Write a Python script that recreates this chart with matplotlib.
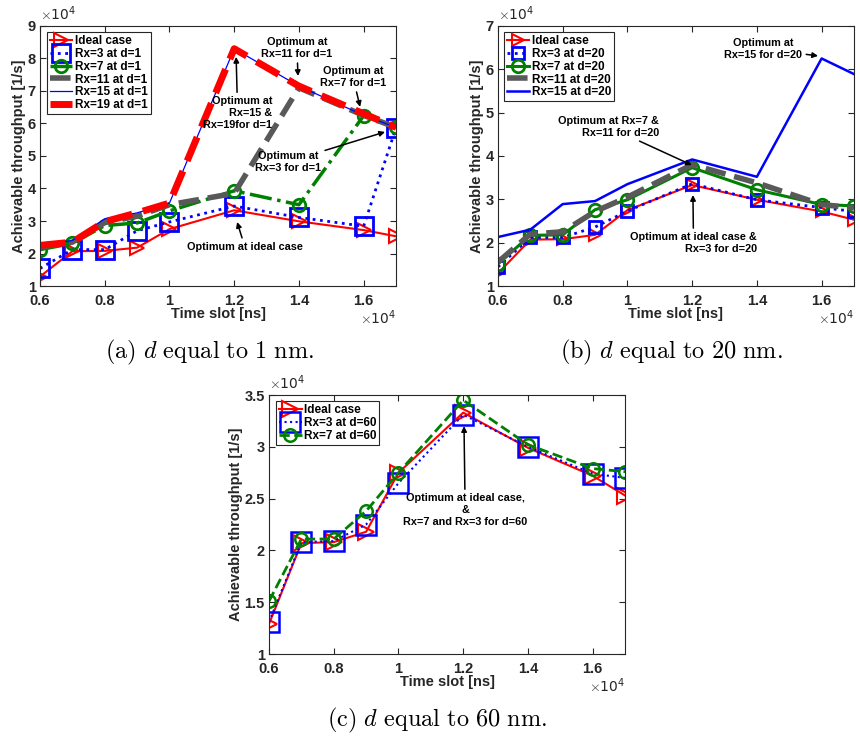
import matplotlib
matplotlib.use("Agg")
import matplotlib.pyplot as plt

plt.rcParams['font.family'] = ['Liberation Sans', 'DejaVu Sans']
plt.rcParams['font.weight'] = 'bold'
plt.rcParams['axes.labelweight'] = 'bold'
plt.rcParams['mathtext.fontset'] = 'cm'

# time slots [ns]
slots = [6000, 7000, 8000, 9000, 10000, 12000, 14000, 16000, 17000]
xtick_vals = [6000, 8000, 10000, 12000, 14000, 16000]
xtick_labels = ['0.6', '0.8', '1', '1.2', '1.4', '1.6']

# throughput [1/s]
ideal = [12900, 20700, 20800, 21800, 27500, 33300, 29900, 27200, 25300]

# d = 1 nm
rx3_d1 = [15400, 21200, 21200, 27000, 29700, 34600, 31100, 28400, 58700]
rx7_d1 = [21200, 23100, 28600, 29400, 33100, 39300, 35000, 62400, 58900]
rx11_d1 = [22000, 23500, 29500, 31500, 35000, 38500, 71000, 62500, 58800]
rx15_d1 = [22500, 24000, 30700, 32500, 35500, 83000, 71500, 62500, 58800]
rx19_d1 = [22500, 23500, 29800, 32500, 35500, 83000, 71500, 63000, 58800]

# d = 20 nm
rx3_d20 = [14400, 21200, 21200, 23600, 27300, 33600, 29900, 28100, 27200]
rx7_d20 = [15100, 21700, 21800, 27600, 29900, 37300, 32200, 28800, 28500]
rx11_d20 = [15500, 22000, 22500, 27200, 30500, 38000, 33800, 28800, 28000]
rx15_d20 = [21300, 23000, 28900, 29600, 33500, 39200, 35200, 62500, 58900]

# d = 60 nm
rx3_d60 = [13100, 20800, 20900, 22500, 26500, 33100, 30000, 27400, 27000]
rx7_d60 = [15100, 21100, 21100, 23800, 27500, 34500, 30200, 27900, 27600]

RED = (1, 0, 0)
BLUE = (0, 0, 1)
GREEN = (0, 0.5, 0)
GRAY = (0.35, 0.35, 0.35)
AXC = (0.15, 0.15, 0.15)

TICK_FS = 10.5
LABEL_FS = 10.5
LEG_FS = 8.5
NOTE_FS = 7.8

fig = plt.figure(figsize=(8.6, 7.36), dpi=100)
ax_a = fig.add_axes([0.0465, 0.6114, 0.414, 0.3533])
ax_b = fig.add_axes([0.579, 0.6114, 0.414, 0.3533])
ax_c = fig.add_axes([0.3128, 0.1114, 0.414, 0.3519])


def style_axes(ax, yticks, ylabels):
    ax.set_xlim(6000, 17000)
    ax.set_ylim(yticks[0], yticks[-1])
    ax.set_xticks(xtick_vals)
    ax.set_xticklabels(xtick_labels)
    ax.set_yticks(yticks)
    ax.set_yticklabels(ylabels)
    ax.tick_params(direction='in', top=True, right=True, length=4,
                   labelsize=TICK_FS, colors=AXC, width=0.8)
    ax.tick_params(axis='x', pad=6)
    ax.tick_params(axis='y', pad=3)
    for s in ax.spines.values():
        s.set_color(AXC)
        s.set_linewidth(0.8)
    ax.set_xlabel('Time slot [ns]', fontsize=LABEL_FS, color=AXC, labelpad=-1)
    ax.set_ylabel('Achievable throughput [1/s]', fontsize=LABEL_FS, color=AXC,
                  labelpad=1)
    ax.text(0, 1.01, r'$\times\mathregular{10^4}$', transform=ax.transAxes,
            fontsize=10, fontweight='normal', color=AXC,
            ha='left', va='bottom', family='DejaVu Sans')
    ax.text(1, -0.088, r'$\times\mathregular{10^4}$', transform=ax.transAxes,
            fontsize=10, fontweight='normal', color=AXC,
            ha='right', va='top', family='DejaVu Sans')


def legend(ax, x0):
    leg = ax.legend(loc='upper left', bbox_to_anchor=(x0, 0.975),
                    borderaxespad=0, fontsize=LEG_FS, frameon=True,
                    fancybox=False, edgecolor=AXC, framealpha=1,
                    handlelength=1.9, handletextpad=0.2, labelspacing=0.06,
                    borderpad=0.25)
    leg.get_frame().set_linewidth(0.8)


def note(ax, txt, xy, xytext, ha='center'):
    ax.annotate(txt, xy=xy, xytext=xytext, fontsize=NOTE_FS, ha=ha,
                va='center', multialignment=ha, linespacing=1.2,
                arrowprops=dict(arrowstyle='-|>', color='black', lw=1.1,
                                mutation_scale=8, shrinkA=1, shrinkB=0))


# ---- (a) d = 1 nm
ax = ax_a
ax.plot(slots, ideal, '->', color=RED, lw=1.5, ms=10, mfc='none', mew=1.5,
        label='Ideal case')
ax.plot(slots, rx3_d1, ':s', color=BLUE, lw=2, ms=13, mfc='none', mew=2,
        label='Rx=3 at d=1')
ax.plot(slots, rx7_d1, '-.o', color=GREEN, lw=2.5, ms=9, mfc='none', mew=2,
        label='Rx=7 at d=1')
ax.plot(slots, rx11_d1, '--', color=GRAY, lw=4, label='Rx=11 at d=1')
ax.plot(slots, rx15_d1, '-', color=BLUE, lw=0.9, label='Rx=15 at d=1')
ax.plot(slots, rx19_d1, '--', color=RED, lw=5, label='Rx=19 at d=1')
style_axes(ax, [10000 * i for i in range(1, 10)],
           [str(i) for i in range(1, 10)])
legend(ax, 0.02)
note(ax, 'Optimum at\nRx=11 for d=1', (13970, 74600), (13940, 83200))
note(ax, 'Optimum at\nRx=7 for d=1', (15890, 65100), (15670, 74300))
note(ax, 'Optimum at\nRx=15 &\nRx=19for d=1', (12060, 80500), (13170, 63200),
     ha='right')
note(ax, 'Optimum at\nRx=3 for d=1', (16660, 57400), (13660, 48200))
note(ax, 'Optimum at ideal case', (12090, 29700), (12330, 22000))

# ---- (b) d = 20 nm
ax = ax_b
ax.plot(slots, ideal, '->', color=RED, lw=1.5, ms=8, mfc='none', mew=1.5,
        label='Ideal case')
ax.plot(slots, rx3_d20, ':s', color=BLUE, lw=2, ms=8, mfc='none', mew=2,
        label='Rx=3 at d=20')
ax.plot(slots, rx7_d20, '-o', color=GREEN, lw=2.2, ms=9, mfc='none', mew=2,
        label='Rx=7 at d=20')
ax.plot(slots, rx11_d20, '--', color=GRAY, lw=4, label='Rx=11 at d=20')
ax.plot(slots, rx15_d20, '-', color=BLUE, lw=1.8, label='Rx=15 at d=20')
style_axes(ax, [10000 * i for i in range(1, 8)],
           [str(i) for i in range(1, 8)])
legend(ax, 0.017)
note(ax, 'Optimum at\nRx=15 for d=20', (15890, 63100), (14190, 64700))
note(ax, 'Optimum at Rx=7 &\nRx=11 for d=20', (11990, 37900), (10980, 46700),
     ha='right')
note(ax, 'Optimum at ideal case &\nRx=3 for d=20', (12025, 31000),
     (14000, 19900), ha='right')

# ---- (c) d = 60 nm
ax = ax_c
ax.plot(slots, ideal, '->', color=RED, lw=1.5, ms=11, mfc='none', mew=1.5,
        label='Ideal case')
ax.plot(slots, rx3_d60, ':s', color=BLUE, lw=1.5, ms=14, mfc='none', mew=1.8,
        label='Rx=3 at d=60')
ax.plot(slots, rx7_d60, '--o', color=GREEN, lw=2, ms=9, mfc='none', mew=1.8,
        label='Rx=7 at d=60')
style_axes(ax, [10000, 15000, 20000, 25000, 30000, 35000],
           ['1', '1.5', '2', '2.5', '3', '3.5'])
legend(ax, 0.02)
note(ax, 'Optimum at ideal case,\n&\nRx=7 and Rx=3 for d=60', (12025, 32000),
     (12060, 23900))

# captions
CAP_FS = 17.5
fig.text(210 / 860, 1 - 352 / 736, r'$\mathrm{(a)}\ d\ \mathrm{equal\ to\ 1\ nm.}$',
         ha='center', va='center', fontsize=CAP_FS)
fig.text(671 / 860, 1 - 352 / 736, r'$\mathrm{(b)}\ d\ \mathrm{equal\ to\ 20\ nm.}$',
         ha='center', va='center', fontsize=CAP_FS)
fig.text(437 / 860, 1 - 720 / 736, r'$\mathrm{(c)}\ d\ \mathrm{equal\ to\ 60\ nm.}$',
         ha='center', va='center', fontsize=CAP_FS)

fig.savefig('out.png', dpi=100)
